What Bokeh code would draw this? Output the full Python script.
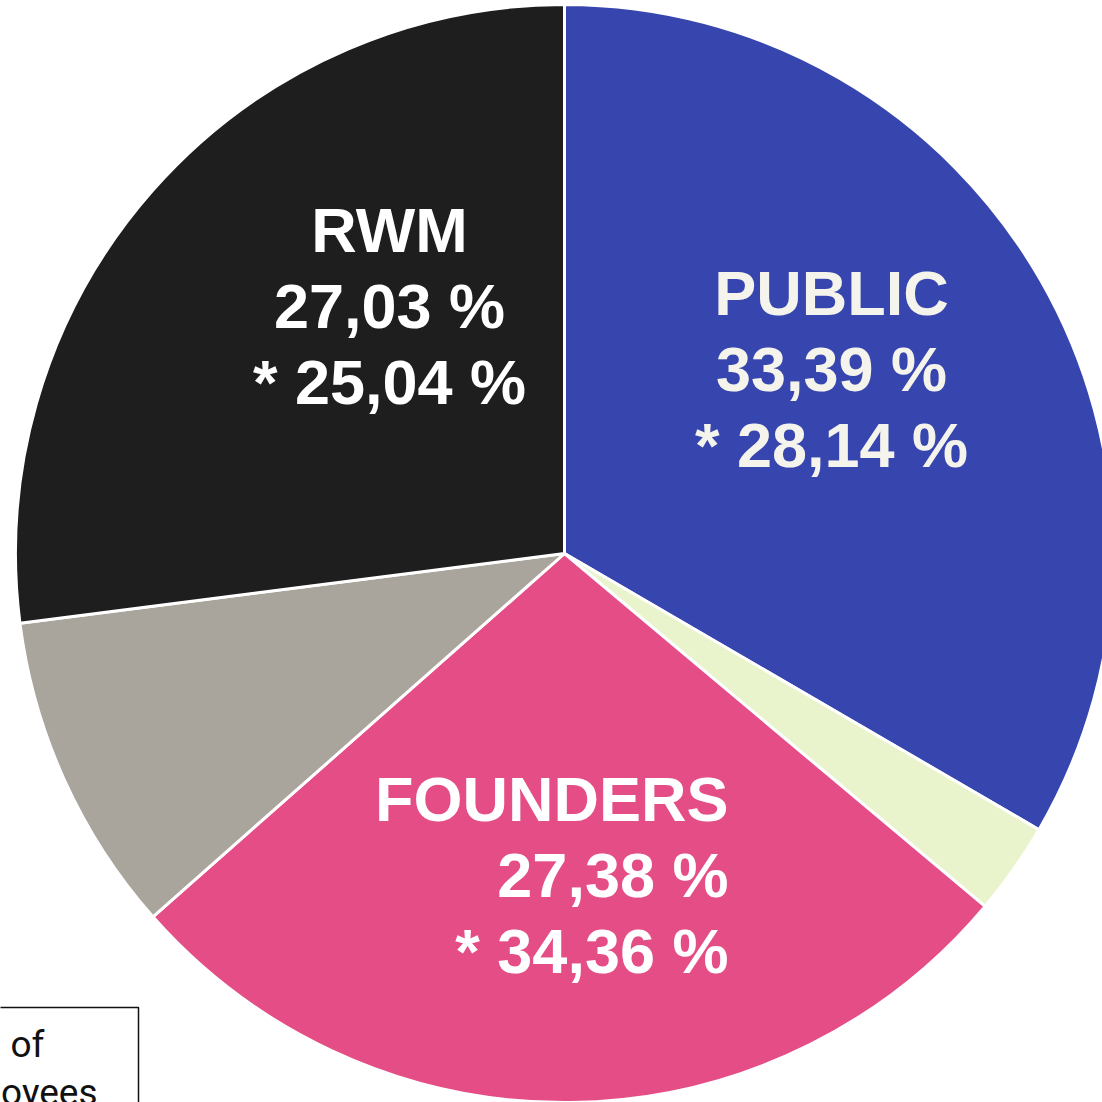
import math
from bokeh.plotting import figure
from bokeh.models import Range1d, ColumnDataSource
from bokeh.core.properties import value
from bokeh.embed import file_html
from bokeh.resources import INLINE

# ---------------- data ----------------
categories = ["PUBLIC", "", "FOUNDERS", "", "RWM"]          # clockwise from 12 o'clock
shares = [33.39, 2.72, 27.38, 9.48, 27.03]                   # % of shares
employee_shares = [28.14, None, 34.36, None, 25.04]          # "*" values
colors = ["#3745ae", "#e9f4cc", "#e44d86", "#a9a59c", "#1e1e1e"]
legend_lines = ["of", "employees"]

# ---------------- layout ----------------
W = H = 1102
CX, CY, R = 564, 553, 549    # pie centre / radius (page pixels)
FONT = value("Liberation Sans")
FS = 63
SIZE = f"{FS}px"
STEP = 76
BASE_FIX = 0.37              # svg text baseline correction (fraction of font size)
label_layout = {             # first-baseline anchor (page px), alignment, colour
    "PUBLIC": (831, 316, "center", "#f5f4ec"),
    "FOUNDERS": (728, 822, "right", "#ffffff"),
    "RWM": (389, 253, "center", "#ffffff"),
}

p = figure(width=W, height=H, output_backend="svg", toolbar_location=None,
           x_range=Range1d(0, W), y_range=Range1d(-H, 0),
           min_border=0, outline_line_color=None, background_fill_color="white",
           border_fill_color="white")
p.axis.visible = False
p.grid.visible = False

# wedges
total = sum(shares)
starts, ends = [], []
cum = 0.0
for s in shares:
    a0 = math.pi / 2 - 2 * math.pi * cum / total
    cum += s
    a1 = math.pi / 2 - 2 * math.pi * cum / total
    starts.append(a1)
    ends.append(a0)
src = ColumnDataSource(dict(start=starts, end=ends, color=colors, cat=categories))
p.wedge(x=CX, y=-CY, radius=R, start_angle="start", end_angle="end",
        fill_color="color", line_color="white", line_width=3, source=src)

def fmt(v):
    return f"{v:.2f} %".replace(".", ",")

# labels
tx, ty, tt, ta, tc = [], [], [], [], []
for cat, s, e in zip(categories, shares, employee_shares):
    if cat not in label_layout:
        continue
    x0, y0, align, col = label_layout[cat]
    lines = [cat, fmt(s), "* " + fmt(e)]
    for i, line in enumerate(lines):
        tx.append(x0)
        ty.append(-(y0 + i * STEP - BASE_FIX * FS))
        tt.append(line)
        ta.append(align)
        tc.append(col)
for al in ("center", "right"):
    idx = [i for i, a in enumerate(ta) if a == al]
    p.text(x=[tx[i] for i in idx], y=[ty[i] for i in idx], text=[tt[i] for i in idx],
           text_color=[tc[i] for i in idx], text_font=FONT, text_font_style="bold",
           text_font_size=SIZE, text_align=al, text_baseline="alphabetic")

# partial legend box (bottom-left, mostly out of frame)
LFS = 37
p.quad(left=-60, right=138, top=-1007, bottom=-1200, fill_color="white",
       line_color="#111111", line_width=1.5)
p.text(x=[10], y=[-(1058 - BASE_FIX * LFS)], text=[legend_lines[0]], text_font=value("Roboto"),
       text_font_size=f"{LFS}px", text_color="#111111", text_align="left",
       text_baseline="alphabetic")
p.text(x=[97], y=[-(1106 - BASE_FIX * LFS)], text=[legend_lines[1]], text_font=value("Roboto"),
       text_font_size=f"{LFS}px", text_color="#111111", text_align="right",
       text_baseline="alphabetic")

open("out.html", "w").write(file_html(p, INLINE))
